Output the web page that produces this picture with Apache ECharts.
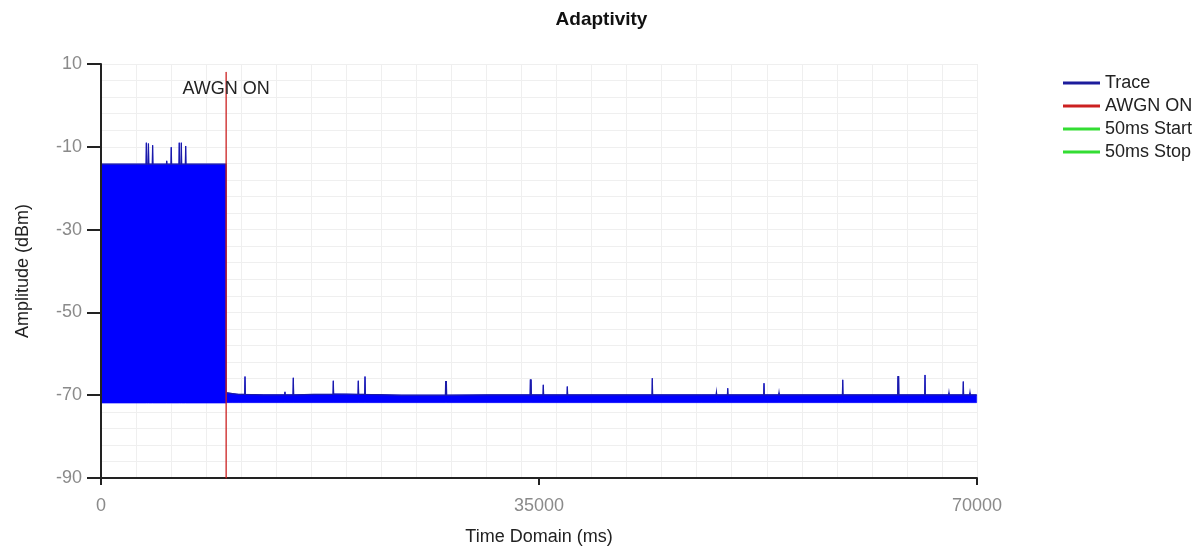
<!DOCTYPE html>
<html>
<head>
<meta charset="utf-8">
<script src="https://cdn.jsdelivr.net/npm/echarts@6/dist/echarts.min.js"></script>
<style>
html,body{margin:0;padding:0;background:#fff;}
#chart{width:1203px;height:548px;}
</style>
</head>
<body>
<div id="chart"></div>
<script>
// ---- data ----
const legendNames = ['Trace', 'AWGN ON', '50ms Start', '50ms Stop'];
const yTickValues = [10, -10, -30, -50, -70, -90];
const xTickValues = [0, 35000, 70000];

// Trace envelope (time in ms, upper / lower amplitude in dBm)
const traceTime = [
  0, 3600, 3625, 3650, 3760, 3790, 3820, 4100, 4125, 4150,
  5230, 5250, 5270, 5590, 5615, 5640, 6230, 6255, 6280, 6395,
  6420, 6445, 6740, 6765, 6790, 9990,
  10000, 10500, 11000, 11480, 11507, 11535, 13000, 14680, 14700, 14720,
  15340, 15367, 15395, 17000, 18540, 18563, 18590, 20535, 20561, 20590,
  21070, 21097, 21125, 24000, 27520, 27540, 27600, 27620, 31000, 34290,
  34310, 34370, 34390, 35320, 35344, 35370, 37240, 37262, 37290, 41000,
  44030, 44054, 44080, 48000, 49160, 49180, 49200, 50055, 50080, 50105,
  52955, 52980, 53005, 54160, 54180, 54200, 56000, 59245, 59270, 59295,
  62000, 63660, 63680, 63740, 63760, 65820, 65846, 65870, 67740, 67760,
  67780, 68880, 68906, 68930, 69420, 69440, 69460, 69970
];
const traceUpper = [
  -14.2, -14.2, -9.0, -14.2, -14.2, -9.2, -14.2, -14.2, -9.6, -14.2,
  -14.2, -13.4, -14.2, -14.2, -10.1, -14.2, -14.2, -9.0, -14.2, -14.2,
  -9.0, -14.2, -14.2, -9.8, -14.2, -14.2,
  -69.4, -69.6, -69.8, -69.8, -65.5, -69.8, -69.9, -69.9, -69.2, -69.9,
  -69.9, -65.8, -69.9, -69.8, -69.8, -66.5, -69.7, -69.8, -66.5, -69.8,
  -69.8, -65.5, -69.8, -70.0, -70.0, -66.7, -66.7, -70.0, -69.9, -69.9,
  -66.3, -66.3, -69.9, -69.9, -67.5, -69.9, -69.9, -67.9, -69.9, -69.9,
  -69.9, -65.9, -69.9, -69.9, -69.9, -69.3, -69.9, -69.9, -68.3, -69.9,
  -69.9, -67.1, -69.9, -69.9, -69.4, -69.9, -69.9, -69.9, -66.3, -69.9,
  -69.9, -69.9, -65.5, -65.5, -69.9, -69.9, -65.1, -69.9, -69.9, -69.4,
  -69.9, -69.9, -66.7, -69.9, -69.9, -69.4, -69.9, -69.9
];
const traceLower = [
  -71.9, -71.9, -71.9, -71.9, -71.9, -71.9, -71.9, -71.9, -71.9, -71.9,
  -71.9, -71.9, -71.9, -71.9, -71.9, -71.9, -71.9, -71.9, -71.9, -71.9,
  -71.9, -71.9, -71.9, -71.9, -71.9, -71.9,
  -71.8, -71.8, -71.8, -71.8, -71.8, -71.8, -71.8, -71.8, -71.8, -71.8,
  -71.8, -71.8, -71.8, -71.8, -71.8, -71.8, -71.8, -71.8, -71.8, -71.8,
  -71.8, -71.8, -71.8, -71.8, -71.8, -71.8, -71.8, -71.8, -71.8, -71.8,
  -71.8, -71.8, -71.8, -71.8, -71.8, -71.8, -71.8, -71.8, -71.8, -71.8,
  -71.8, -71.8, -71.8, -71.8, -71.8, -71.8, -71.8, -71.8, -71.8, -71.8,
  -71.8, -71.8, -71.8, -71.8, -71.8, -71.8, -71.8, -71.8, -71.8, -71.8,
  -71.8, -71.8, -71.8, -71.8, -71.8, -71.8, -71.8, -71.8, -71.8, -71.8,
  -71.8, -71.8, -71.8, -71.8, -71.8, -71.8, -71.8, -71.8
];

// AWGN ON marker
const awgnTime = [10000, 10000];
const awgnAmp = [-90, 8];

// 50 ms window markers (not visible in the reference)
const start50Time = [];
const start50Amp = [];
const stop50Time = [];
const stop50Amp = [];

// ---- build ----
const FONT = "'Liberation Sans', Arial, sans-serif";
const TRACE_FILL = '#0000ff';
const TRACE_EDGE = '#1a1aa8';
const GRID_COLOR = '#efefef';
const zip = (xs, ys) => xs.map((x, i) => [x, ys[i]]);

// the whole trace envelope as one item: upper edge forward, lower edge back
const traceEnvelope = [[traceTime[0], traceUpper[0], traceTime[traceTime.length - 1], traceLower[0]]];

function renderTrace(params, api) {
  const upperPts = traceTime.map((t, i) => api.coord([t, traceUpper[i]]));
  const lowerPts = traceTime.map((t, i) => api.coord([t, traceLower[i]])).reverse();
  return {
    type: 'group',
    children: [
      {type: 'polygon', shape: {points: upperPts.concat(lowerPts)},
        style: {fill: TRACE_FILL, stroke: TRACE_FILL, lineWidth: 0.6}},
      {type: 'polyline', shape: {points: upperPts},
        style: {fill: null, stroke: TRACE_EDGE, lineWidth: 1.2}}
    ]
  };
}

const chart = echarts.init(document.getElementById('chart'), null, {renderer: 'canvas'});
chart.setOption({
  animation: false,
  backgroundColor: '#ffffff',
  title: {
    text: 'Adaptivity', left: 'center', top: 5,
    textStyle: {fontFamily: FONT, fontSize: 19, fontWeight: 'bold', color: '#111'}
  },
  legend: {
    orient: 'vertical', left: 1058, top: 69,
    icon: 'rect', itemWidth: 37, itemHeight: 3, itemGap: 5,
    textStyle: {fontFamily: FONT, fontSize: 18, color: '#222', lineHeight: 18},
    data: [
      {name: legendNames[0], itemStyle: {color: '#1c1c9c'}},
      {name: legendNames[1], itemStyle: {color: '#cc2020'}},
      {name: legendNames[2], itemStyle: {color: '#33dd33'}},
      {name: legendNames[3], itemStyle: {color: '#33dd33'}}
    ]
  },
  grid: {left: 101, right: 226, top: 64, bottom: 70, containLabel: false, outerBoundsMode: 'none'},
  xAxis: [
    {
      type: 'value', min: 0, max: 70000, interval: 35000, z: 4,
      name: 'Time Domain (ms)', nameLocation: 'middle', nameGap: 50,
      nameTextStyle: {fontFamily: FONT, fontSize: 18, color: '#222'},
      axisLine: {onZero: false, lineStyle: {color: '#222', width: 2}},
      axisTick: {length: 7, lineStyle: {color: '#222', width: 2}},
      axisLabel: {margin: 19, fontFamily: FONT, fontSize: 18, color: '#8a8a8a',
        customValues: xTickValues, formatter: v => String(v)},
      splitLine: {show: false}
    },
    {
      type: 'value', min: 0, max: 70000, interval: 2800, position: 'top', z: 0,
      axisLine: {show: false}, axisTick: {show: false}, axisLabel: {show: false},
      splitLine: {show: true, lineStyle: {color: GRID_COLOR, width: 1}}
    }
  ],
  yAxis: [
    {
      type: 'value', min: -90, max: 10, interval: 10, z: 4,
      name: 'Amplitude (dBm)', nameLocation: 'middle', nameGap: 69,
      nameTextStyle: {fontFamily: FONT, fontSize: 18, color: '#222'},
      axisLine: {show: true, onZero: false, lineStyle: {color: '#222', width: 2}},
      axisTick: {show: true, length: 14, lineStyle: {color: '#222', width: 2},
        customValues: yTickValues},
      axisLabel: {margin: 19, fontFamily: FONT, fontSize: 18, color: '#8a8a8a',
        customValues: yTickValues},
      splitLine: {show: false}
    },
    {
      type: 'value', min: 0, max: 100, interval: 4, position: 'right', z: 0,
      axisLine: {show: false}, axisTick: {show: false}, axisLabel: {show: false},
      splitLine: {show: true, lineStyle: {color: GRID_COLOR, width: 1}}
    }
  ],
  series: [
    {
      name: 'Trace', type: 'custom', xAxisIndex: 0, yAxisIndex: 0,
      data: traceEnvelope,
      encode: {x: [0, 2], y: [1, 3]},
      renderItem: renderTrace,
      color: '#1c1c9c', z: 3
    },
    {
      name: 'AWGN ON', type: 'line', xAxisIndex: 0, yAxisIndex: 0,
      data: zip(awgnTime, awgnAmp).map((p, i) => i === awgnTime.length - 1
        ? {value: p, label: {show: true, formatter: 'AWGN ON', position: 'bottom', distance: 7,
            fontFamily: FONT, fontSize: 18, color: '#222'}}
        : p),
      symbol: 'circle', symbolSize: 1, showSymbol: true,
      color: '#cc2020', lineStyle: {color: '#cc2020', width: 1.3}, z: 5
    },
    {
      name: '50ms Start', type: 'line', data: zip(start50Time, start50Amp),
      symbol: 'none', color: '#33dd33', lineStyle: {color: '#33dd33', width: 1.3}
    },
    {
      name: '50ms Stop', type: 'line', data: zip(stop50Time, stop50Amp),
      symbol: 'none', color: '#33dd33', lineStyle: {color: '#33dd33', width: 1.3}
    }
  ]
});
</script>
</body>
</html>
